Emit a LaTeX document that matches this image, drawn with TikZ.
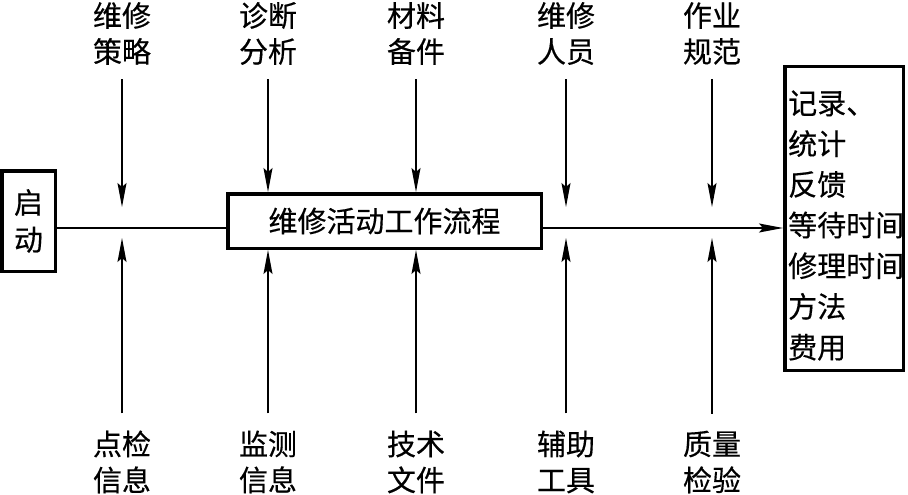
\documentclass[tikz,border=0pt]{standalone}
\usepackage{fontspec}
\newfontfamily\cjk[FakeBold=0.4]{Noto Sans CJK SC}
\usetikzlibrary{arrows.meta}
\tikzset{
	box/.style={draw, line width=3.5pt, inner sep=0pt},
	lbl/.style={align=center, inner sep=0pt, font=\cjk\fontsize{29}{36}\selectfont},
	line/.style={line width=1.2pt},
	arr/.style={line width=1.2pt, -{Stealth[length=24pt, width=9pt, inset=4pt]}},
}
\begin{document}
\begin{tikzpicture}[x=1pt, y=-1pt]
			\useasboundingbox (0,0) rectangle (908,495);

			\node (start)[box, lbl, font=\cjk\fontsize{29}{37}\selectfont, minimum width=53.5pt, minimum height=100.5pt] at (28.5,221) {启\\动};
			\node (flow)[box, lbl, minimum width=313.5pt, minimum height=54.5pt] at (384.5,221) {维修活动工作流程};
			\node (result)[box, minimum width=118.5pt, minimum height=303.5pt] at (844,218.5) {};
			\node (resulttext)[lbl, align=left, anchor=west, font=\cjk\fontsize{29}{40.7}\selectfont] at (788,225.5) {记录、\\统计\\反馈\\等待时间\\修理时间\\方法\\费用};

			% top labels
			\node (t1)[lbl] at (122,33.5) {维修\\策略};
			\node (t2)[lbl] at (268,33.5) {诊断\\分析};
			\node (t3)[lbl] at (416,33.5) {材料\\备件};
			\node (t4)[lbl] at (566,33.5) {维修\\人员};
			\node (t5)[lbl] at (712,33.5) {作业\\规范};

			% bottom labels
			\node (b1)[lbl] at (122,462) {点检\\信息};
			\node (b2)[lbl] at (268,462) {监测\\信息};
			\node (b3)[lbl] at (416,462) {技术\\文件};
			\node (b4)[lbl] at (566,462) {辅助\\工具};
			\node (b5)[lbl] at (712,462) {质量\\检验};

			% main line
			\coordinate (m) at (0,228);
			\draw [line](start.east |- m) -- (flow.west |- m);
			\draw [arr](flow.east |- m) -- (result.west |- m);

			% arrows towards the main line
			\foreach \i in {1,4,5} {
				\coordinate (up\i) at ([yshift=21pt]t\i |- m);
				\coordinate (dn\i) at ([yshift=-10pt]b\i |- m);
				\draw [arr, shorten <=14pt](t\i.south) -- (up\i);
				\draw [arr, shorten <=17pt](b\i.north) -- (dn\i);
			}
			\foreach \i in {2,3} {
				\draw [arr, shorten <=14pt](t\i.south) -- (t\i.south |- flow.north);
				\draw [arr, shorten <=17pt](b\i.north) -- (b\i.north |- flow.south);
			}
		\end{tikzpicture}
\end{document}
